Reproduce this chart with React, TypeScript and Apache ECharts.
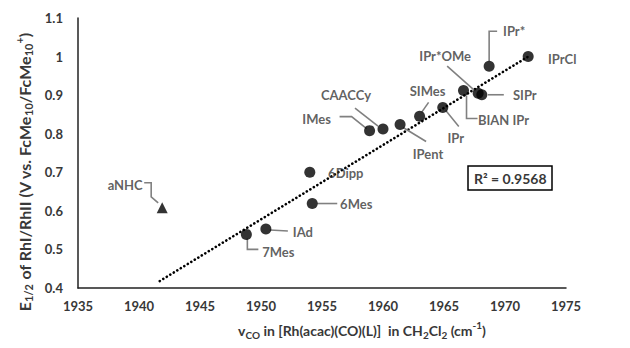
import React, { useEffect, useRef } from "react";
import * as echarts from "echarts";

// ---- data ----
const ligands = ["IPrCl", "IPr*", "IPr*OMe", "SIPr", "BIAN IPr", "IPr", "SIMes", "IPent", "CAACCy", "IMes", "6Dipp", "6Mes", "IAd", "7Mes"];
const nuCO = [1971.9, 1968.7, 1967.8, 1968.1, 1966.6, 1964.9, 1963.0, 1961.4, 1960.0, 1958.9, 1954.0, 1954.2, 1950.4, 1948.8];
const e12 = [1.0, 0.975, 0.905, 0.901, 0.912, 0.868, 0.845, 0.824, 0.812, 0.808, 0.7, 0.619, 0.553, 0.539];

const outlierName = ["aNHC"];
const outlierNu = [1941.9];
const outlierE = [0.608];

const trendNu = [1941.7, 1971.9];
const trendE = [0.418, 1.0];

const xMin = 1935, xMax = 1975, xStep = 5;
const yMin = 0.4, yMax = 1.1, yStep = 0.1;
const rSquared = "R² = 0.9568";

// ---- layout (pixel offsets of labels / leader lines relative to each point) ----
const labelOffsets: Record<string, [number, number]> = {
  "IPrCl": [34, 2],
  "IPr*": [25, -35],
  "IPr*OMe": [-33, -37],
  "SIPr": [43, 0],
  "BIAN IPr": [40, 29],
  "IPr": [13, 31],
  "SIMes": [8, -25],
  "IPent": [28, 30],
  "CAACCy": [-37, -34],
  "IMes": [-53, -12],
  "6Dipp": [36, 1],
  "6Mes": [44, 0],
  "IAd": [37, 3],
  "7Mes": [32, 18],
  "aNHC": [-37, -23],
};
const leaders: Record<string, number[][]> = {
  "IPr*": [[0, -5], [0, -35], [8, -35]],
  "IPr*OMe": [[-31, -27], [-4, -3]],
  "SIPr": [[6, 0], [22, 0]],
  "BIAN IPr": [[3, 5], [3, 28], [14, 28]],
  "IPr": [[3, 3], [16, 19]],
  "SIMes": [[2, -4], [9, -14]],
  "IPent": [[3, 3], [26, 17]],
  "CAACCy": [[-5, -3], [-28, -21]],
  "IMes": [[-3, -2], [-18, -14], [-30, -14]],
  "6Mes": [[5, 0], [25, 0]],
  "IAd": [[4, 1], [22, 2]],
  "7Mes": [[1, 4], [1, 15], [12, 15]],
  "aNHC": [[-4, -5], [-11, -11], [-11, -25], [-18, -25]],
};

const FONT = "Lato, 'Open Sans', sans-serif";
const TXT = "#383838";

export default function App() {
  const ref = useRef<HTMLDivElement>(null);
  useEffect(() => {
    if (!ref.current) return;
    const chart = echarts.init(ref.current, null, { renderer: "svg" });

    const allNames = [...ligands, ...outlierName];
    const allNu = [...nuCO, ...outlierNu];
    const allE = [...e12, ...outlierE];

    const labelStyle = (name: string) => ({
      show: true,
      position: "inside" as const,
      formatter: name,
      offset: labelOffsets[name] || [0, 0],
      fontFamily: FONT,
      fontSize: 13,
      fontWeight: "bold" as const,
      color: TXT,
    });

    const nameRich = (size: number, sub: number) => ({
      b: { fontFamily: FONT, fontSize: size, fontWeight: "bold", fill: TXT, lineHeight: 20, verticalAlign: "middle" },
      s: { fontFamily: FONT, fontSize: sub, fontWeight: "bold", fill: TXT, lineHeight: 10, verticalAlign: "bottom" },
      p: { fontFamily: FONT, fontSize: sub, fontWeight: "bold", fill: TXT, lineHeight: 10, verticalAlign: "top" },
    });

    const option: any = {
      animation: false,
      backgroundColor: "#ffffff",
      grid: { left: 78, right: 64, top: 18, bottom: 60, containLabel: false },
      title: {
        text: rSquared,
        left: 468,
        top: 166,
        padding: [5, 6, 5, 6],
        borderColor: "#000",
        borderWidth: 1.5,
        backgroundColor: "#fff",
        textStyle: { fontFamily: FONT, fontSize: 14, fontWeight: "bold", color: TXT },
      },
      xAxis: {
        type: "value",
        min: xMin,
        max: xMax,
        interval: xStep,
        axisLine: { show: true, onZero: false, lineStyle: { color: "#222", width: 1.5 } },
        axisTick: { show: false },
        splitLine: { show: false },
        axisLabel: {
          fontFamily: FONT,
          fontSize: 13,
          fontWeight: "bold",
          color: TXT,
          margin: 11,
          formatter: (v: number) => String(v),
        },
      },
      yAxis: {
        type: "value",
        min: yMin,
        max: yMax,
        interval: yStep,
        axisLine: { show: true, onZero: false, lineStyle: { color: "#222", width: 1.5 } },
        axisTick: { show: false },
        splitLine: { show: false },
        axisLabel: {
          fontFamily: FONT,
          fontSize: 13,
          fontWeight: "bold",
          color: TXT,
          margin: 15,
          formatter: (v: number) => String(Math.round(v * 10) / 10),
        },
      },
      graphic: [
        {
          type: "text",
          x: 24,
          y: 172,
          rotation: Math.PI / 2,
          style: {
            text: "{b|E}{s|1/2}{b| of RhI/RhII (V vs. FcMe}{s|10}{b|/FcMe}{s|10}{p|+}{b|)}",
            align: "center",
            verticalAlign: "middle",
            rich: nameRich(16, 11),
          },
        },
        {
          type: "text",
          x: 362,
          y: 330,
          style: {
            text: "{b|v}{s|CO}{b| in [Rh(acac)(CO)(L)]  in CH}{s|2}{b|Cl}{s|2}{b| (cm}{p|-1}{b|)}",
            align: "center",
            verticalAlign: "middle",
            rich: nameRich(14, 10),
          },
        },
      ],
      series: [
        {
          type: "line",
          data: trendNu.map((x, i) => [x, trendE[i]]),
          showSymbol: false,
          symbol: "none",
          lineStyle: { color: "#000", width: 2.6, type: [0.1, 4], cap: "round" },
          z: 1,
          silent: true,
        },
        {
          type: "custom",
          coordinateSystem: "cartesian2d",
          data: allNames.map((n, i) => ({ name: n, value: [allNu[i], allE[i]] })),
          renderItem: (params: any, api: any) => {
            const name = allNames[params.dataIndex];
            const pts = leaders[name];
            if (!pts) return null;
            const c = api.coord([api.value(0), api.value(1)]);
            return {
              type: "polyline",
              shape: { points: pts.map((p) => [c[0] + p[0], c[1] + p[1]]) },
              style: { stroke: "#808080", lineWidth: 1.6, fill: null },
            };
          },
          z: 2,
          silent: true,
        },
        {
          type: "scatter",
          symbol: "circle",
          symbolSize: 11,
          itemStyle: { color: "#000" },
          data: ligands.map((n, i) => ({ name: n, value: [nuCO[i], e12[i]], label: labelStyle(n) })),
          z: 3,
        },
        {
          type: "scatter",
          symbol: "triangle",
          symbolSize: 11,
          itemStyle: { color: "#000" },
          data: outlierName.map((n, i) => ({ name: n, value: [outlierNu[i], outlierE[i]], label: labelStyle(n) })),
          z: 3,
        },
      ],
    };
    chart.setOption(option);
    return () => chart.dispose();
  }, []);
  return <div ref={ref} style={{ position: "fixed", left: 0, top: 0, width: 630, height: 348 }} />;
}
